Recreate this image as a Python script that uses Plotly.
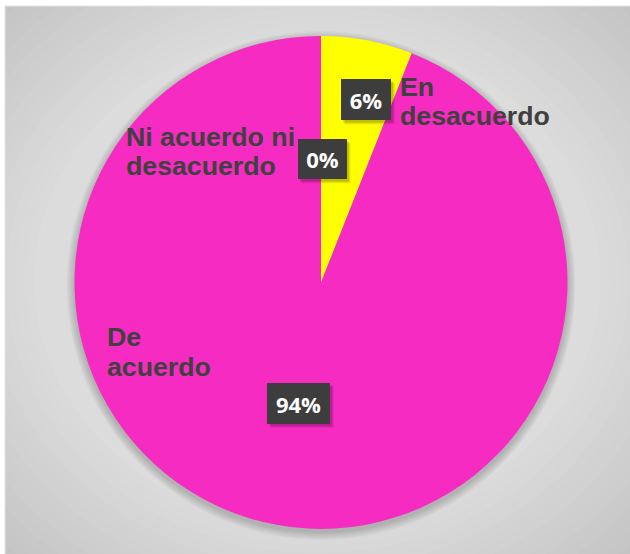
import plotly.graph_objects as go

W, H = 630, 554

# Survey answers and their share of responses (%)
categories = ["Ni acuerdo ni desacuerdo", "En desacuerdo", "De acuerdo"]
percent = [0, 6, 94]
colors = ["#A5A5A5", "#FFFF00", "#F62BC2"]

# Category captions, split into the lines they are drawn on
caption_lines = {
    "Ni acuerdo ni desacuerdo": ["Ni acuerdo ni", "desacuerdo"],
    "En desacuerdo": ["En", "desacuerdo"],
    "De acuerdo": ["De", "acuerdo"],
}

# Layout helpers (pixel positions on the 630x554 canvas)
cx, cy, r = 321.0, 282.4, 246.5
caption_pos = {  # left x, baseline of first line, line step
    "Ni acuerdo ni desacuerdo": (125, 146, 29),
    "En desacuerdo": (399, 96, 29),
    "De acuerdo": (106, 346, 30),
}
value_box = {  # centre x, centre y, width, height
    "Ni acuerdo ni desacuerdo": (322, 159.3, 49, 40),
    "En desacuerdo": (365.7, 99.8, 50, 41),
    "De acuerdo": (298.3, 403.3, 63, 41),
}


def px(x):
    return x / W


def py(y):
    return 1 - y / H


fig = go.Figure(
    go.Pie(
        labels=categories,
        values=percent,
        sort=False,
        direction="clockwise",
        rotation=0,
        marker=dict(colors=colors, line=dict(width=0)),
        textinfo="none",
        hoverinfo="label+percent",
        showlegend=False,
        domain=dict(x=[px(cx - r), px(cx + r)], y=[py(cy + r), py(cy - r)]),
    )
)

shapes = []

# Radial grey backdrop of the chart area
x0p, y0p, x1p, y1p = 5, 6, 630, 554
mx, my = (x0p + x1p) / 2, (y0p + y1p) / 2
a, b = (x1p - x0p) / 2, (y1p - y0p) / 2
steps = 48
for i in range(steps):
    t = 1.45 * (1 - i / steps)
    if t > 0.9:
        g = 0xDC - (t - 0.9) / 0.55 * (0xDC - 0xC3)
    else:
        g = 0xE1 - t / 0.9 * (0xE1 - 0xDC)
    g = int(round(g))
    shapes.append(dict(
        type="circle", xref="paper", yref="paper", layer="below",
        x0=px(mx - a * t), x1=px(mx + a * t), y0=py(my + b * t), y1=py(my - b * t),
        fillcolor=f"rgb({g},{g},{g})", line=dict(width=0),
    ))

# Soft shadow under the pie
for k in range(8, 0, -1):
    shapes.append(dict(
        type="circle", xref="paper", yref="paper", layer="below",
        x0=px(cx - r - k), x1=px(cx + r + k),
        y0=py(cy + 3 + r + k), y1=py(cy + 3 - r - k),
        fillcolor="rgba(0,0,0,0.025)", line=dict(width=0),
    ))

# White page margin around the chart area
shapes.append(dict(type="rect", xref="paper", yref="paper", layer="below",
                   x0=0, x1=px(x0p), y0=0, y1=1, fillcolor="white", line=dict(width=0)))
shapes.append(dict(type="rect", xref="paper", yref="paper", layer="below",
                   x0=0, x1=1, y0=py(y0p), y1=1, fillcolor="white", line=dict(width=0)))
shapes.append(dict(type="rect", xref="paper", yref="paper", layer="below",
                   x0=px(x0p), x1=px(x1p + 2), y0=py(y1p + 2), y1=py(y0p),
                   fillcolor="rgba(0,0,0,0)", line=dict(color="#E4E4E4", width=1)))

annotations = []
for cat, v in zip(categories, percent):
    # caption lines
    lx, base, step = caption_pos[cat]
    for j, line in enumerate(caption_lines[cat]):
        bl = base + j * step
        annotations.append(dict(
            text=line, xref="paper", yref="paper", showarrow=False,
            x=px(lx), y=py(bl - 9.3), xanchor="left", yanchor="middle",
            borderpad=0,
            font=dict(family="Liberation Sans, Arial", size=26.7, color="#404040", weight="bold"),
        ))
    # value label box with drop shadow
    bx, by, bw, bh = value_box[cat]
    for off, op in ((4, 0.10), (2.5, 0.16)):
        shapes.append(dict(
            type="rect", xref="paper", yref="paper", layer="above",
            x0=px(bx - bw / 2 + off), x1=px(bx + bw / 2 + off),
            y0=py(by + bh / 2 + off), y1=py(by - bh / 2 + off),
            fillcolor=f"rgba(0,0,0,{op})", line=dict(width=0),
        ))
    annotations.append(dict(
        text=f"{v}%", xref="paper", yref="paper", showarrow=False,
        x=px(bx), y=py(by), xanchor="center", yanchor="middle",
        width=bw, height=bh, borderpad=0, borderwidth=0,
        bgcolor="#3D3D3D",
        font=dict(family="Open Sans, Arial", size=22, color="white", weight="bold"),
    ))

fig.update_layout(
    width=W, height=H,
    margin=dict(l=0, r=0, t=0, b=0),
    paper_bgcolor="white",
    shapes=shapes,
    annotations=annotations,
)

fig.write_html("out.html")
